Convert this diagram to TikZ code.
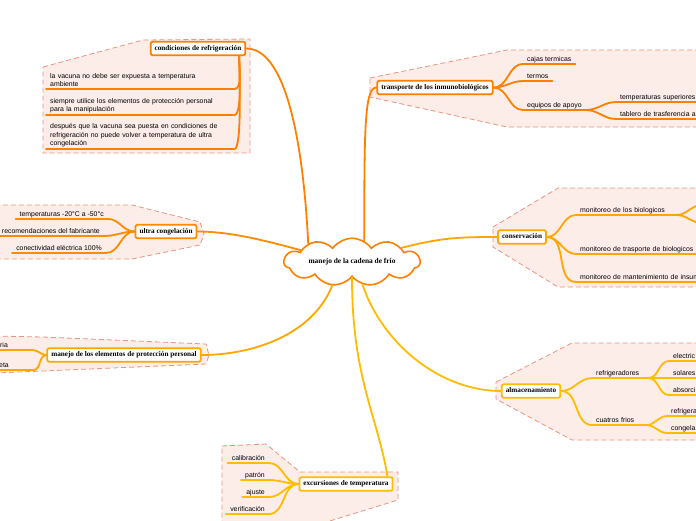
\documentclass[tikz,border=0pt]{standalone}
\usepackage{fontspec}
\setmainfont{Liberation Serif}
\newfontfamily\leafface{Liberation Sans}
\usepackage{tikz}
\usetikzlibrary{
  shapes.symbols,
  positioning
}
\definecolor{mapred}{RGB}{255,128,0}
\definecolor{mapdeep}{RGB}{255,140,0}
\definecolor{mapamber}{RGB}{255,166,0}
\definecolor{mapgold}{RGB}{255,188,0}
\definecolor{zonefill}{RGB}{252,237,232}
\definecolor{zoneline}{RGB}{232,148,128}
\tikzset{
  topic/.style={draw, line width=1.8pt, rounded corners=2pt, fill=white,
    font=\fontsize{7.2}{8}\selectfont\bfseries,
    inner xsep=4pt, inner ysep=3.5pt, text height=5pt, text depth=1.5pt},
  core/.style={cloud, cloud puffs=11, cloud puff arc=110, aspect=4,
    draw=mapred, line width=1.6pt, fill=white, inner sep=0pt,
    minimum width=136pt, minimum height=30pt,
    font=\fontsize{7.4}{8}\selectfont\bfseries},
  leaf/.style={font=\leafface\fontsize{6.9}{8}\selectfont,
    inner xsep=4pt, inner ysep=1.2pt, text depth=1.4pt, align=left},
  leafw/.style={leaf, text width=#1},
  leafblock/.style={font=\leafface\fontsize{6.9}{8.3}\selectfont,
    inner xsep=4pt, inner ysep=2pt, align=left, text width=#1},
  link/.style={line width=1.8pt, line cap=round},
  zone/.style={draw=zoneline, fill=zonefill, line width=0.8pt,
    dash pattern=on 5pt off 3pt},
}

\begin{document}
\begin{tikzpicture}[x=1pt, y=-1pt]
  \useasboundingbox (0,0) rectangle (696,520);
  \clip (0,0) rectangle (696,520);

  % Zones behind the branches
  \draw[zone] (43,67) -- (143,40) -- (250,39) -- (250,153) -- (43,153) -- cycle;
  \draw[zone] (370,78) -- (507,50) -- (702,50) -- (702,127) -- (507,127) -- (370,97) -- cycle;
  \draw[zone] (493,227) -- (558,188) -- (702,188) -- (702,287) -- (558,287) -- (493,247) -- cycle;
  \draw[zone] (496,382) -- (572,343) -- (702,343) -- (702,440) -- (572,440) -- (496,399) -- cycle;
  \draw[zone] (222,446) -- (266,444) -- (300,472) -- (398,472) -- (398,500) -- (320,524) -- (222,524) -- cycle;
  \draw[zone] (-5,336) -- (43,337) -- (206,344) -- (209,355) -- (206,364) -- (43,371) -- (-5,373) -- cycle;
  \draw[zone] (-5,205) -- (132,205) -- (200,222) -- (204,234) -- (200,245) -- (132,259) -- (-5,259) -- cycle;

  \node[core] (core) at (352,262) {manejo de la cadena de frío};

  \node[topic, draw=mapred]   (refri)  at (198,48.5) {condiciones de refrigeración};
  \node[topic, draw=mapred]   (trans)  at (435,87.5) {transporte de los inmunobiológicos};
  \node[topic, draw=mapamber] (conse)  at (522,237)  {conservación};
  \node[topic, draw=mapgold]  (almac)  at (531,391)  {almacenamiento};
  \node[topic, draw=mapgold]  (excur)  at (346,484)  {excursiones de temperatura};
  \node[topic, draw=mapamber] (protec) at (124,355)  {manejo de los elementos de protección personal};
  \node[topic, draw=mapdeep]  (ultra)  at (166,231.5) {ultra congelación};

  % Arrows to the topics
  \draw[link, mapred] (core.157) .. controls +(-5,-100) and +(40,0) .. (refri.east);
  \draw[link, mapred] (core.60) .. controls +(0,-110) and +(-12,0) .. (trans.west);
  \draw[link, mapamber] (core.16) .. controls +(40,-10) and +(-40,0) .. (conse.west);
  \draw[link, mapgold] (core.-65) .. controls +(20,60) and +(-60,0) .. (almac.west);
  \draw[link, mapgold] (core.-90) .. controls +(0,100) and +(-10,-60) .. ([xshift=-6pt]excur.north east);
  \draw[link, mapamber] (core.-130) .. controls +(-20,50) and +(50,0) .. (protec.east);
  \draw[link, mapdeep] (core.167) .. controls +(-30,-8) and +(35,0) .. (ultra.east);

  % condiciones de refrigeración
  \node[leafblock=180pt, anchor=south west] (r1) at (46,89)
    {la vacuna no debe ser expuesta a temperatura\\ambiente};
  \node[leafblock=180pt, anchor=south west] (r2) at (46,115)
    {siempre utilice los elementos de protección personal\\para la manipulación};
  \node[leafblock=180pt, anchor=south west] (r3) at (46,149)
    {después que la vacuna sea puesta en condiciones de\\refrigeración no puede volver a temperatura de ultra\\congelación};
  \foreach \n in {r1,r2,r3}
    \draw[link, mapred] (\n.south west) -- (\n.south east)
      .. controls +(8,0) and +(0,12) .. ([xshift=-7pt]refri.south east);

  % transporte de los inmunobiológicos
  \node[leaf, anchor=south west] (t1) at (523,64) {cajas termicas};
  \node[leaf, anchor=south west] (t2) at (523,81) {termos};
  \node[leaf, anchor=south west] (t3) at (523,110) {equipos de apoyo};
  \node[leafw=90pt, anchor=south west] (t4) at (616,102) {temperaturas superiores};
  \node[leafw=90pt, anchor=south west] (t5) at (616,119) {tablero de trasferencia a};
  \foreach \n in {t1,t2,t3}
    \draw[link, mapred] (trans.east) to[out=0, in=180] (\n.south west) -- (\n.south east);
  \foreach \n in {t4,t5}
    \draw[link, mapred] (t3.south east) to[out=0, in=180] (\n.south west) -- (\n.south east);

  % conservación
  \node[leafw=92pt, anchor=south west] (c1) at (576,215) {monitoreo de los biologicos};
  \node[leafw=130pt, anchor=south west] (c2) at (576,254) {monitoreo de trasporte de biologicos};
  \node[leafw=130pt, anchor=south west] (c3) at (576,282) {monitoreo de mantenimiento de insum};
  \coordinate (c1a) at (702,205);
  \coordinate (c1b) at (702,223);
  \foreach \n in {c1,c2,c3}
    \draw[link, mapamber] (conse.east) to[out=0, in=180] (\n.south west) -- (\n.south east);
  \foreach \n in {c1a,c1b}
    \draw[link, mapamber] (c1.south east) to[out=0, in=180] (\n);

  % almacenamiento
  \node[leafw=48pt, anchor=south west] (a1) at (592,378) {refrigeradores};
  \node[leafw=46pt, anchor=south west] (a5) at (592,425) {cuatros frios};
  \node[leafw=40pt, anchor=south west] (a2) at (669,361) {electric};
  \node[leafw=40pt, anchor=south west] (a3) at (669,378) {solares};
  \node[leafw=40pt, anchor=south west] (a4) at (669,395) {absorci};
  \node[leafw=40pt, anchor=south west] (a6) at (667,416) {refrigera};
  \node[leafw=40pt, anchor=south west] (a7) at (667,433) {congela};
  \foreach \n in {a1,a5}
    \draw[link, mapgold] (almac.east) to[out=0, in=180] (\n.south west) -- (\n.south east);
  \foreach \n in {a2,a3,a4}
    \draw[link, mapgold] (a1.south east) to[out=0, in=180] (\n.south west) -- (\n.south east);
  \foreach \n in {a6,a7}
    \draw[link, mapgold] (a5.south east) to[out=0, in=180] (\n.south west) -- (\n.south east);

  % excursiones de temperatura
  \node[leaf, anchor=south east] (e1) at (269,463) {calibración};
  \node[leaf, anchor=south east] (e2) at (269,480) {patrón};
  \node[leaf, anchor=south east] (e3) at (269,497) {ajuste};
  \node[leaf, anchor=south east] (e4) at (269,514) {verificación};
  \foreach \n in {e1,e2,e3,e4}
    \draw[link, mapgold] (excur.west) to[out=180, in=0] (\n.south east) -- (\n.south west);

  % manejo de los elementos de protección personal
  \node[leafw=28pt, anchor=south west] (m1) at (-4,350) {ria};
  \node[leafw=30pt, anchor=south west] (m2) at (-5,370) {eta};
  \foreach \n in {m1,m2}
    \draw[link, mapamber] (protec.west) to[out=180, in=0] (\n.south east) -- (\n.south west);

  % ultra congelación
  \node[leaf, anchor=south east] (u1) at (108,219) {temperaturas -20°C a -50°c};
  \node[leaf, anchor=south east] (u2) at (104,236) {recomendaciones del fabricante};
  \node[leaf, anchor=south east] (u3) at (106,253) {conectividad eléctrica 100\%};
  \foreach \n in {u1,u2,u3}
    \draw[link, mapdeep] (ultra.west) to[out=180, in=0] (\n.south east) -- (\n.south west);
\end{tikzpicture}
\end{document}
